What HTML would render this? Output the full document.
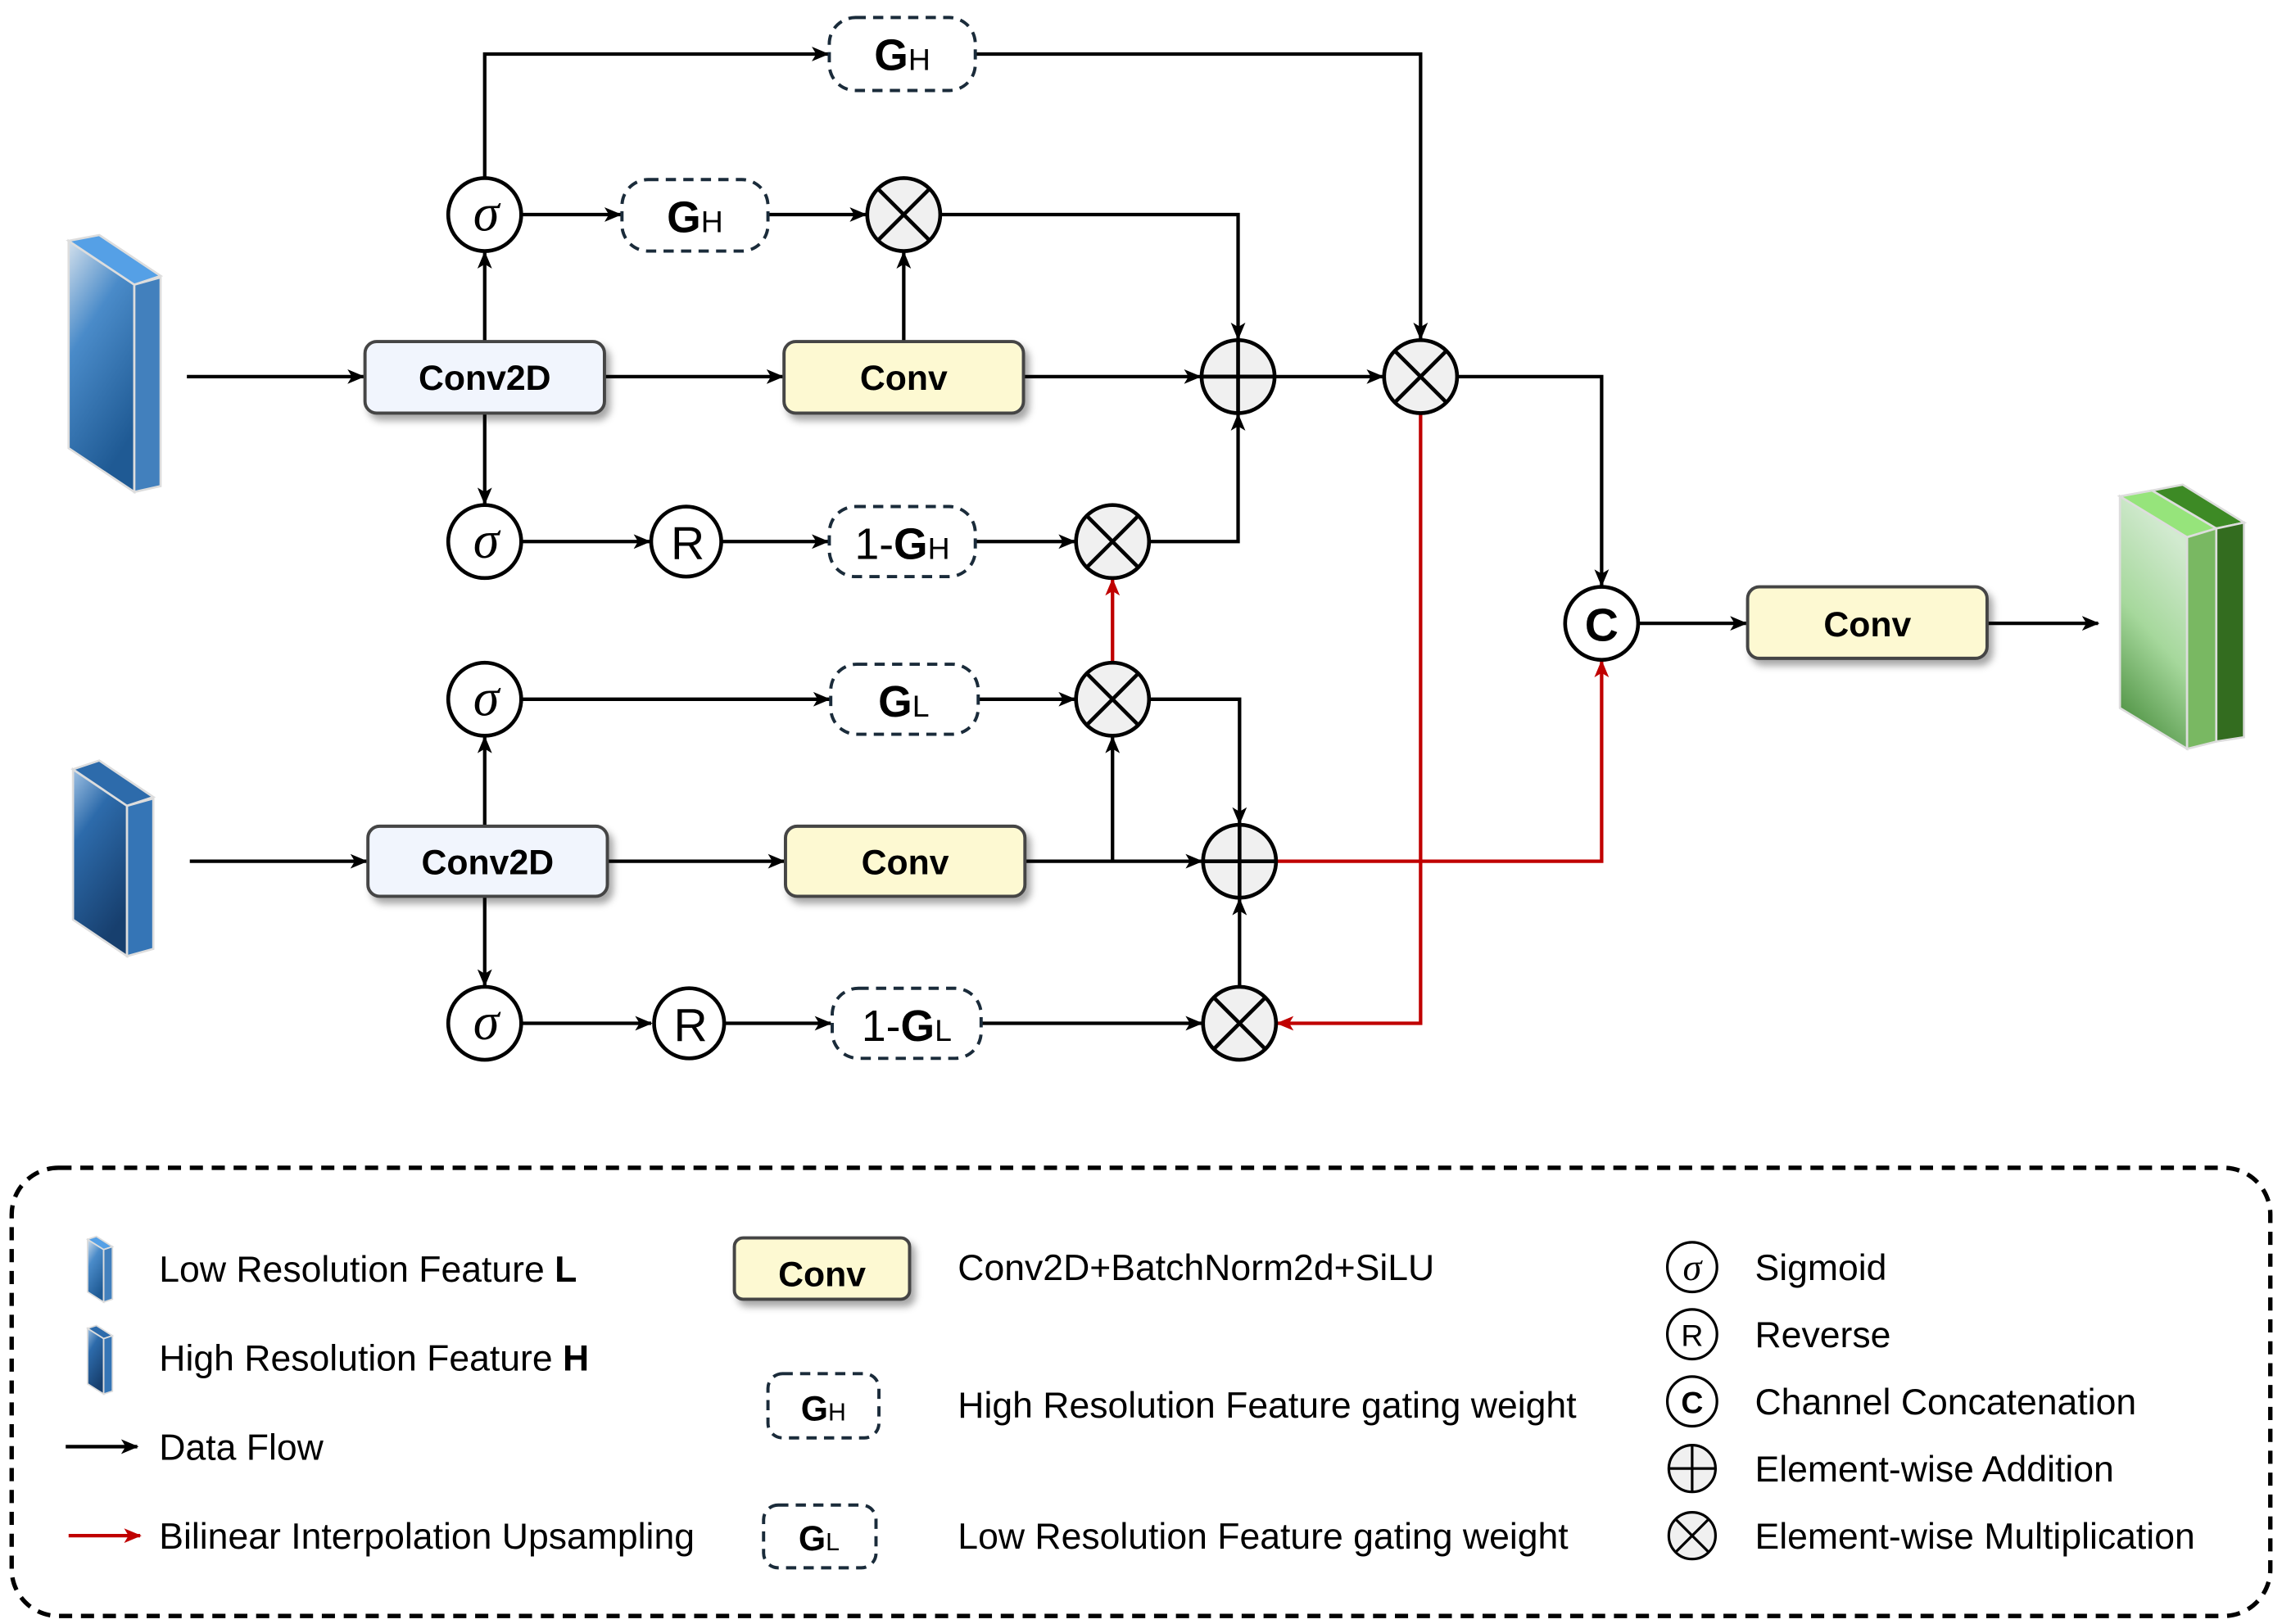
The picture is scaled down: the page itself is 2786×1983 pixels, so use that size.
<!DOCTYPE html>
<html><head><meta charset="utf-8"><style>html,body{margin:0;padding:0;background:#fff}svg{display:block}</style></head>
<body>
<svg width="2786" height="1983" viewBox="0 0 1563 1112.5" xmlns="http://www.w3.org/2000/svg" font-family="Liberation Sans, sans-serif">
<defs>
<marker id="a" markerWidth="12" markerHeight="10" refX="11" refY="5" orient="auto" markerUnits="userSpaceOnUse"><path d="M0,0 L12,5 L0,10 L3,5 Z" fill="#000"/></marker>
<marker id="ar" markerWidth="12" markerHeight="10" refX="11" refY="5" orient="auto" markerUnits="userSpaceOnUse"><path d="M0,0 L12,5 L0,10 L3,5 Z" fill="#c00000"/></marker>
<linearGradient id="bl" x1="0" y1="0" x2="0.4" y2="1"><stop offset="0" stop-color="#d3e0ec"/><stop offset="0.4" stop-color="#4a8bc9"/><stop offset="1" stop-color="#1f5a94"/></linearGradient>
<linearGradient id="bh" x1="0" y1="0" x2="0.4" y2="1"><stop offset="0" stop-color="#9fc1e3"/><stop offset="0.35" stop-color="#2d6bab"/><stop offset="1" stop-color="#173f6e"/></linearGradient>
<linearGradient id="gr" x1="0.3" y1="0" x2="0" y2="1"><stop offset="0" stop-color="#d2ead0"/><stop offset="0.45" stop-color="#a6d89c"/><stop offset="1" stop-color="#3a822e"/></linearGradient>
<filter id="sh" x="-10%" y="-10%" width="130%" height="140%"><feDropShadow dx="3" dy="4" stdDeviation="2.5" flood-color="#000" flood-opacity="0.35"/></filter>
</defs>

<g stroke="#ddd" stroke-width="1.5">
<polygon points="47,165 92,195 92,337 47,307" fill="url(#bl)"/>
<polygon points="47,165 68,161 110,189 92,195" fill="#55a0e6"/>
<polygon points="92,195 110,190 110,333 92,337" fill="#4280bd"/>

<polygon points="50,527 87,552 87,655 50,630" fill="url(#bh)"/>
<polygon points="50,527 68,521 105,546 87,552" fill="#2d6bab"/>
<polygon points="87,552 105,547 105,650 87,655" fill="#3575b6"/>

<polygon points="1452,340 1498,368 1498,513 1452,485" fill="url(#gr)"/>
<polygon points="1452,340 1474,336 1518,362 1498,368" fill="#96e47b"/>
<polygon points="1474,336 1495,332 1537,358 1518,362" fill="#3d8a25"/>
<polygon points="1498,368 1518,362 1518,508 1498,513" fill="#79b862"/>
<polygon points="1518,362 1537,358 1537,505 1518,508" fill="#336c1f"/>
</g>

<g stroke="#000" stroke-width="2.4" fill="none">
<line x1="128" y1="258" x2="249" y2="258" marker-end="url(#a)"/>
<line x1="414" y1="258" x2="536" y2="258" marker-end="url(#a)"/>
<line x1="701" y1="258" x2="822" y2="258" marker-end="url(#a)"/>
<line x1="873" y1="258" x2="947" y2="258" marker-end="url(#a)"/>
<polyline points="998,258 1097,258 1097,401" marker-end="url(#a)"/>
<line x1="332" y1="234" x2="332" y2="173" marker-end="url(#a)"/>
<polyline points="332,122 332,37 567,37" marker-end="url(#a)"/>
<polyline points="668,37 973,37 973,232" marker-end="url(#a)"/>
<line x1="357" y1="147" x2="425" y2="147" marker-end="url(#a)"/>
<line x1="526" y1="147" x2="593" y2="147" marker-end="url(#a)"/>
<line x1="619" y1="234" x2="619" y2="173" marker-end="url(#a)"/>
<polyline points="644,147 848,147 848,232" marker-end="url(#a)"/>
<line x1="332" y1="283" x2="332" y2="345" marker-end="url(#a)"/>
<line x1="357" y1="371" x2="445" y2="371" marker-end="url(#a)"/>
<line x1="494" y1="371" x2="567" y2="371" marker-end="url(#a)"/>
<line x1="668" y1="371" x2="736" y2="371" marker-end="url(#a)"/>
<polyline points="787,371 848,371 848,284" marker-end="url(#a)"/>
<line x1="1122" y1="427" x2="1196" y2="427" marker-end="url(#a)"/>
<line x1="1361" y1="427" x2="1437" y2="427" marker-end="url(#a)"/>

<line x1="130" y1="590" x2="251" y2="590" marker-end="url(#a)"/>
<line x1="416" y1="590" x2="537" y2="590" marker-end="url(#a)"/>
<line x1="702" y1="590" x2="823" y2="590" marker-end="url(#a)"/>
<line x1="762" y1="590" x2="762" y2="505" marker-end="url(#a)"/>
<polyline points="787,479 849,479 849,564" marker-end="url(#a)"/>
<line x1="332" y1="566" x2="332" y2="505" marker-end="url(#a)"/>
<line x1="357" y1="479" x2="568" y2="479" marker-end="url(#a)"/>
<line x1="670" y1="479" x2="736" y2="479" marker-end="url(#a)"/>
<line x1="332" y1="614" x2="332" y2="675" marker-end="url(#a)"/>
<line x1="357" y1="701" x2="446" y2="701" marker-end="url(#a)"/>
<line x1="497" y1="701" x2="569" y2="701" marker-end="url(#a)"/>
<line x1="672" y1="701" x2="823" y2="701" marker-end="url(#a)"/>
<line x1="849" y1="676" x2="849" y2="616" marker-end="url(#a)"/>
</g>
<g stroke="#c00000" stroke-width="2.4" fill="none">
<line x1="762" y1="454" x2="762" y2="397" marker-end="url(#ar)"/>
<polyline points="973,283 973,701 875,701" marker-end="url(#ar)"/>
<polyline points="874,590 1097,590 1097,453" marker-end="url(#ar)"/>
</g>

<g stroke="#444" stroke-width="2.2" filter="url(#sh)">
<rect x="250" y="234" width="164" height="49" rx="8" fill="#f1f5fd"/>
<rect x="252" y="566" width="164" height="48" rx="8" fill="#f1f5fd"/>
<rect x="537" y="234" width="164" height="49" rx="8" fill="#fdf9d2"/>
<rect x="538" y="566" width="164" height="48" rx="8" fill="#fdf9d2"/>
<rect x="1197" y="402" width="164" height="49" rx="8" fill="#fdf9d2"/>
<rect x="503" y="848" width="120" height="42" rx="6" fill="#fdf9d2"/>
</g>
<g font-weight="bold" font-size="24" text-anchor="middle">
<text x="332" y="267">Conv2D</text>
<text x="334" y="599">Conv2D</text>
<text x="619" y="267">Conv</text>
<text x="620" y="599">Conv</text>
<text x="1279" y="436">Conv</text>
<text x="563" y="881">Conv</text>
</g>

<g stroke="#1a2b3a" stroke-width="2.2" stroke-dasharray="7,5" fill="#fff">
<rect x="568" y="12" width="100" height="50" rx="18"/>
<rect x="426" y="123" width="100" height="49" rx="18"/>
<rect x="568" y="347" width="100" height="48" rx="18"/>
<rect x="569" y="455" width="101" height="48" rx="18"/>
<rect x="570" y="677" width="102" height="48" rx="18"/>
<rect x="526" y="941" width="76" height="44" rx="10"/>
<rect x="523" y="1031" width="77" height="43" rx="10"/>
</g>
<g font-size="30" text-anchor="middle">
<text x="618" y="48"><tspan font-weight="bold">G</tspan><tspan font-size="21">H</tspan></text>
<text x="476" y="159"><tspan font-weight="bold">G</tspan><tspan font-size="21">H</tspan></text>
<text x="618" y="383"><tspan>1-</tspan><tspan font-weight="bold">G</tspan><tspan font-size="21">H</tspan></text>
<text x="619" y="491"><tspan font-weight="bold">G</tspan><tspan font-size="21">L</tspan></text>
<text x="621" y="713"><tspan>1-</tspan><tspan font-weight="bold">G</tspan><tspan font-size="21">L</tspan></text>
<text x="564" y="973" font-size="24"><tspan font-weight="bold">G</tspan><tspan font-size="17">H</tspan></text>
<text x="561" y="1062" font-size="24"><tspan font-weight="bold">G</tspan><tspan font-size="17">L</tspan></text>
</g>

<g stroke="#000" stroke-width="2.6" fill="#fff">
<circle cx="332" cy="147" r="25"/><circle cx="332" cy="371" r="25"/>
<circle cx="332" cy="479" r="25"/><circle cx="332" cy="701" r="25"/>
<circle cx="470" cy="371" r="24"/><circle cx="472" cy="701" r="24"/>
<circle cx="1097" cy="427" r="25"/>
</g>
<g font-size="36" font-family="Liberation Serif, serif" font-style="italic" text-anchor="middle">
<text x="333" y="158">σ</text><text x="333" y="382">σ</text><text x="333" y="490">σ</text><text x="333" y="712">σ</text>
</g>
<g font-size="32" text-anchor="middle">
<text x="471" y="383">R</text><text x="473" y="713">R</text>
<text x="1097" y="439" font-weight="bold">C</text>
</g>
<g stroke="#000" stroke-width="2.6" fill="#f0f0f0">
<g><circle cx="619" cy="147" r="25"/><path d="M601.3,129.3 L636.7,164.7 M636.7,129.3 L601.3,164.7"/></g>
<g><circle cx="973" cy="258" r="25"/><path d="M955.3,240.3 L990.7,275.7 M990.7,240.3 L955.3,275.7"/></g>
<g><circle cx="762" cy="371" r="25"/><path d="M744.3,353.3 L779.7,388.7 M779.7,353.3 L744.3,388.7"/></g>
<g><circle cx="762" cy="479" r="25"/><path d="M744.3,461.3 L779.7,496.7 M779.7,461.3 L744.3,496.7"/></g>
<g><circle cx="849" cy="701" r="25"/><path d="M831.3,683.3 L866.7,718.7 M866.7,683.3 L831.3,718.7"/></g>
<g><circle cx="848" cy="258" r="25"/><path d="M848,233 L848,283 M823,258 L873,258"/></g>
<g><circle cx="849" cy="590" r="25"/><path d="M849,565 L849,615 M824,590 L874,590"/></g>
</g>

<rect x="8" y="800" width="1547" height="307" rx="32" fill="none" stroke="#000" stroke-width="3" stroke-dasharray="9,6"/>
<g stroke="#ddd" stroke-width="1">
<polygon points="60,849 71,856 71,892 60,885" fill="url(#bl)"/>
<polygon points="60,849 66,847 77,854 71,856" fill="#55a0e6"/>
<polygon points="71,856 77,854 77,890 71,892" fill="#4280bd"/>
<polygon points="60,910 71,917 71,955 60,948" fill="url(#bh)"/>
<polygon points="60,910 66,908 77,915 71,917" fill="#2d6bab"/>
<polygon points="71,917 77,915 77,953 71,955" fill="#3575b6"/>
</g>
<line x1="45" y1="991" x2="94" y2="991" stroke="#000" stroke-width="2.4" marker-end="url(#a)"/>
<line x1="47" y1="1052" x2="96" y2="1052" stroke="#c00000" stroke-width="2.4" marker-end="url(#ar)"/>
<g font-size="25">
<text x="109" y="878">Low Resolution Feature <tspan font-weight="bold">L</tspan></text>
<text x="109" y="939">High Resolution Feature <tspan font-weight="bold">H</tspan></text>
<text x="109" y="1000">Data Flow</text>
<text x="109" y="1061">Bilinear Interpolation Upsampling</text>
<text x="656" y="877">Conv2D+BatchNorm2d+SiLU</text>
<text x="656" y="971">High Resolution Feature gating weight</text>
<text x="656" y="1061">Low Resolution Feature gating weight</text>
<text x="1202" y="877">Sigmoid</text>
<text x="1202" y="923">Reverse</text>
<text x="1202" y="969">Channel Concatenation</text>
<text x="1202" y="1015">Element-wise Addition</text>
<text x="1202" y="1061">Element-wise Multiplication</text>
</g>
<g stroke="#000" stroke-width="1.8" fill="#fff">
<circle cx="1159" cy="868" r="17"/><circle cx="1159" cy="914" r="17"/><circle cx="1159" cy="960" r="17"/>
</g>
<g stroke="#000" stroke-width="1.8" fill="#f0f0f0">
<circle cx="1159" cy="1006" r="16"/><path d="M1159,990 L1159,1022 M1143,1006 L1175,1006"/>
<circle cx="1159" cy="1052" r="16"/><path d="M1147.7,1040.7 L1170.3,1063.3 M1170.3,1040.7 L1147.7,1063.3"/>
</g>
<text x="1159" y="877" font-size="26" font-family="Liberation Serif, serif" font-style="italic" text-anchor="middle">σ</text>
<text x="1159" y="922" font-size="21" text-anchor="middle">R</text>
<text x="1159" y="968" font-size="21" text-anchor="middle" font-weight="bold">C</text>
</svg>
</body></html>
